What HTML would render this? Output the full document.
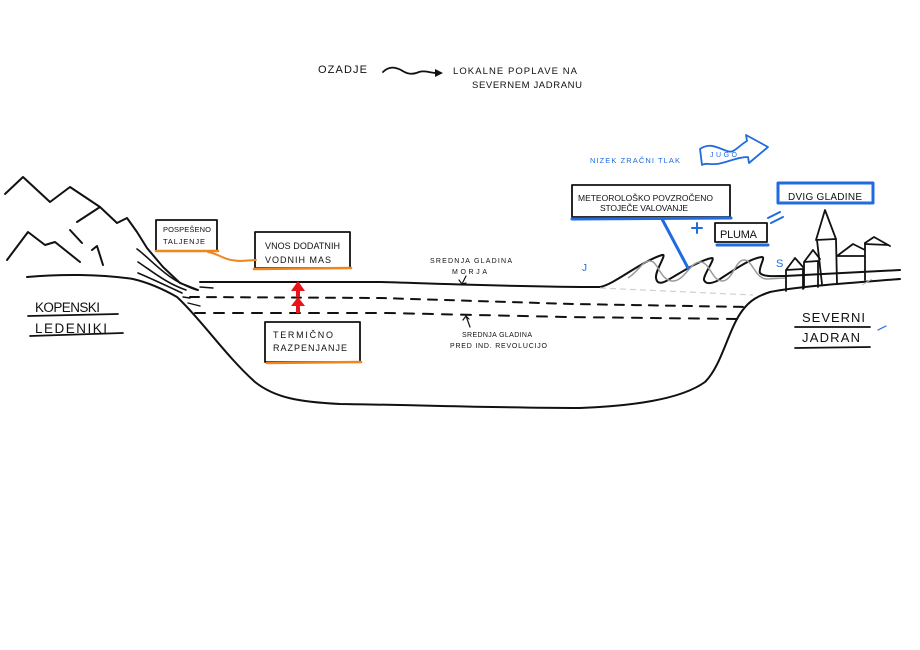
<!DOCTYPE html>
<html><head><meta charset="utf-8"><style>
html,body{margin:0;padding:0;background:#fff;width:920px;height:650px;overflow:hidden}
svg{display:block}
text{font-family:"Liberation Sans","DejaVu Sans",sans-serif;fill:#111}
.b{fill:#1f6be0}
</style></head><body>
<svg width="920" height="650" viewBox="0 0 920 650" xmlns="http://www.w3.org/2000/svg">
<rect width="920" height="650" fill="#fff"/>

<!-- top caption -->
<text x="318" y="73" font-size="11" textLength="49">OZADJE</text>
<path d="M383,72 C389,66 395,67 401,70 C407,74 412,75 419,72 C425,70 430,73 436,73" fill="none" stroke="#111" stroke-width="1.8" stroke-linecap="round"/>
<polygon points="435,69 435,77 443,73" fill="#111"/>
<text x="453" y="74" font-size="9.5" textLength="124">LOKALNE POPLAVE NA</text>
<text x="472" y="88" font-size="9.5" textLength="110">SEVERNEM JADRANU</text>

<g fill="none" stroke="#111" stroke-width="2" stroke-linecap="round" stroke-linejoin="round">
  <!-- mountains -->
  <path d="M5,194 L23,177 L50,202 L70,187 L100,207"/>
  <path d="M77,222 L100,207 L117,223 L127,218 L137,232 L147,248 L163,267 L180,283 L198,290"/>
  <path d="M7,260 L28,232 L45,245 L55,242 L80,262"/>
  <path d="M70,230 L82,243"/>
  <path d="M92,250 L97,246 L103,265"/>
  <!-- glacier lines -->
  <path d="M137,249 C148,257 160,271 175,280 C184,285 190,288 197,290" stroke-width="1.6"/>
  <path d="M138,262 C150,270 160,278 172,284 C178,287 183,289 186,290" stroke-width="1.6"/>
  <path d="M138,273 C150,278 165,285 182,293" stroke-width="1.6"/>
  <path d="M183,297 L190,298 M200,287 L213,288 M188,303 L200,306" stroke-width="1.4"/>
  <!-- ground + basin -->
  <path d="M27,277 C60,274 100,274 133,279 C150,283 163,289 177,297 C200,318 225,355 255,382 C275,398 300,402 340,404 C420,405 500,408 580,408 C630,406 680,400 705,382 C722,365 728,330 742,311 C750,300 758,296 770,292 C800,286 850,283 900,279"/>
  <!-- water surface + waves -->
  <path d="M200,282 L380,282 C450,284 520,287 600,287 C615,284 640,262 662,255 C668,253 655,270 656,278 C657,285 663,283 668,280 C682,272 700,260 712,258 C716,258 703,275 704,280 C706,285 712,283 717,281 C731,272 750,258 762,257 C766,257 758,268 760,273 C763,277 775,276 785,276 L900,270"/>
  <!-- dashed sea levels -->
  <path d="M190,297 L380,298 L573,304 L747,307" stroke-dasharray="9 8"/>
  <path d="M195,313 L387,313 L567,317 L737,319" stroke-dasharray="10 9"/>
  <!-- boxes -->
  <rect x="156" y="220" width="61" height="31" stroke-width="1.8"/>
  <rect x="255" y="232" width="95" height="36" stroke-width="1.8"/>
  <rect x="265" y="322" width="95" height="40" stroke-width="1.8"/>
  <rect x="572" y="185" width="158" height="32" stroke-width="1.8"/>
  <rect x="715" y="223" width="52" height="19" stroke-width="1.8"/>
  <!-- underlines of labels -->
  <path d="M28,316 L118,314 M30,336 L123,333 M795,327 L870,327 M795,348 L870,347" stroke-width="1.8"/>
  <!-- small arrows -->
  <path d="M466,276 L462,284 M459,280 L462,284 L466,283" stroke-width="1.2"/>
  <path d="M470,327 L466,316 M463,320 L466,316 L469,319" stroke-width="1.2"/>
  <!-- town -->
  <g stroke-width="1.8">
    <path d="M786,291 L786,270 L795,258 L803,267 M786,270 L803,269 L803,289"/>
    <path d="M804,288 L804,262 L813,250 L820,259 M804,262 L818,261 L818,287"/>
    <path d="M816,240 L825,210 L836,239 M816,240 L836,239 M817,240 L822,284 M836,239 L837,283"/>
    <path d="M837,256 L853,244 L865,250 M837,256 L865,256 M865,243 L865,280"/>
    <path d="M865,243 L874,237 L890,246 M865,244 L888,245"/>
  </g>
</g>

<!-- grey wave -->
<path d="M628,278 C640,270 642,261 650,261 C658,261 660,280 672,281 C684,282 690,262 700,262 C710,262 712,281 722,281 C733,281 735,260 744,260 C753,260 755,279 767,279 L785,278" fill="none" stroke="#9a9a9a" stroke-width="1.5"/>
<path d="M600,288 L753,295" fill="none" stroke="#d0d0d0" stroke-width="1.2" stroke-dasharray="6 4"/>
<path d="M862,285 L872,279" stroke="#bbb" stroke-width="1"/>

<!-- orange -->
<g fill="none" stroke="#f0851e" stroke-width="2.6" stroke-linecap="round">
  <path d="M156,251 L218,251"/>
  <path d="M254,269 L351,268"/>
  <path d="M267,363 L361,362"/>
  <path d="M208,252 C220,254 222,260 240,261 L256,260" stroke-width="2"/>
</g>

<!-- red arrows -->
<g fill="#e8141c">
  <polygon points="291,291 305,291 298,281"/><rect x="296" y="290" width="4" height="7"/>
  <polygon points="291,306 305,306 298,297"/><rect x="296" y="305" width="4" height="8"/>
</g>

<!-- blue -->
<g fill="none" stroke="#1f6be0" stroke-linecap="round" stroke-linejoin="round">
  <path d="M572,219 L731,218" stroke-width="3"/>
  <path d="M662,219 L688,268" stroke-width="3"/>
  <path d="M717,245 L768,245" stroke-width="3"/>
  <rect x="778" y="183" width="95" height="20" stroke-width="3"/>
  <path d="M692,228 L702,228 M697,223 L697,233" stroke-width="2"/>
  <path d="M768,218 L780,212 M771,223 L783,217" stroke-width="2"/>
  <path d="M700,149 C710,142 718,148 727,151 C734,154 738,146 747,141 L746,135 L768,147 L749,163 L748,157 C740,157 733,160 722,163 C712,166 706,162 702,165 Z" stroke-width="1.8"/>
  <path d="M878,330 L886,326" stroke-width="1.2"/>
</g>
<text class="b" x="590" y="163" font-size="7.5" textLength="90">NIZEK ZRAČNI TLAK</text>
<text class="b" x="710" y="157" font-size="7" textLength="27">JUGO</text>
<text class="b" x="582" y="271" font-size="10">J</text>
<text class="b" x="776" y="267" font-size="11">S</text>

<!-- box texts -->
<text x="163" y="232" font-size="7.5" textLength="48">POSPEŠENO</text>
<text x="163" y="244" font-size="7.5" textLength="42">TALJENJE</text>
<text x="265" y="249" font-size="9" textLength="75">VNOS DODATNIH</text>
<text x="265" y="263" font-size="9" textLength="66">VODNIH MAS</text>
<text x="273" y="338" font-size="9" textLength="60">TERMIČNO</text>
<text x="273" y="351" font-size="9" textLength="74">RAZPENJANJE</text>
<text x="578" y="201" font-size="8.5" textLength="135">METEOROLOŠKO POVZROČENO</text>
<text x="600" y="211" font-size="8.5" textLength="88">STOJEČE VALOVANJE</text>
<text x="720" y="238" font-size="11" textLength="37">PLUMA</text>
<text x="788" y="200" font-size="10" textLength="74">DVIG GLADINE</text>

<!-- side labels -->
<text x="35" y="312" font-size="13.5" textLength="65">KOPENSKI</text>
<text x="35" y="333" font-size="13.5" textLength="72">LEDENIKI</text>
<text x="802" y="322" font-size="13" textLength="63">SEVERNI</text>
<text x="802" y="342" font-size="13" textLength="58">JADRAN</text>

<!-- level labels -->
<text x="430" y="263" font-size="7" textLength="82">SREDNJA GLADINA</text>
<text x="452" y="274" font-size="7" textLength="35">MORJA</text>
<text x="462" y="337" font-size="7" textLength="70">SREDNJA GLADINA</text>
<text x="450" y="348" font-size="7" textLength="97">PRED IND. REVOLUCIJO</text>
</svg>
</body></html>
